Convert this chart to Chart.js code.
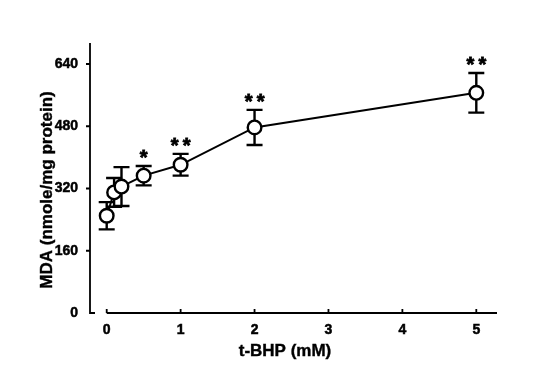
<!DOCTYPE html>
<html><head><meta charset="utf-8">
<script src="https://cdn.jsdelivr.net/npm/chart.js@4"></script>
<style>html,body{margin:0;padding:0;background:#fff}#wrap{width:545px;height:370px}</style>
</head><body><div id="wrap"><canvas id="c"></canvas></div>
<script>
const doses = [0, 0.1, 0.2, 0.5, 1, 2, 5];
const mda = [250, 310, 325, 353, 381, 477, 566];
const sem = [35, 37, 50, 25, 28, 45, 51];
const signif = ["", "", "", "*", "**", "**", "**"];
const xTicks = [0, 1, 2, 3, 4, 5];
const yTicks = [0, 160, 320, 480, 640];
const xTitle = "t-BHP (mM)";
const yTitle = "MDA (nmole/mg protein)";

const FONT = '"Liberation Sans", Arial, Helvetica, sans-serif';

const decor = {
  id: 'decor',
  beforeDatasetsDraw(chart) {
    const {ctx, scales: {x, y}} = chart;
    ctx.save();
    ctx.strokeStyle = '#000';
    ctx.lineWidth = 2.4;
    for (let i = 0; i < doses.length; i++) {
      const px = x.getPixelForValue(doses[i]);
      const top = y.getPixelForValue(mda[i] + sem[i]);
      const bot = y.getPixelForValue(mda[i] - sem[i]);
      ctx.beginPath();
      ctx.moveTo(px, top); ctx.lineTo(px, bot);
      ctx.moveTo(px - 8, top); ctx.lineTo(px + 8, top);
      ctx.moveTo(px - 8, bot); ctx.lineTo(px + 8, bot);
      ctx.stroke();
    }
    ctx.restore();
  },
  afterDraw(chart) {
    const {ctx, scales: {x, y}, chartArea: a} = chart;
    ctx.save();
    ctx.strokeStyle = '#000';
    ctx.lineWidth = 1.8;
    const yx = a.left;
    ctx.beginPath();
    ctx.moveTo(yx, a.top); ctx.lineTo(yx, y.getPixelForValue(0));
    ctx.lineTo(yx + 5, y.getPixelForValue(0));
    for (const v of yTicks) {
      if (v === 0) continue;
      const py = y.getPixelForValue(v);
      ctx.moveTo(yx - 4, py); ctx.lineTo(yx, py);
    }
    ctx.stroke();
    const xy = y.getPixelForValue(0);
    ctx.beginPath();
    ctx.moveTo(x.getPixelForValue(0), xy); ctx.lineTo(a.right, xy);
    for (const v of xTicks) {
      const px = x.getPixelForValue(v);
      ctx.moveTo(px, xy); ctx.lineTo(px, xy - 4);
    }
    ctx.stroke();
    ctx.fillStyle = '#000';
    ctx.strokeStyle = '#000';
    ctx.lineWidth = 0.8;
    ctx.font = 'bold 20px ' + FONT;
    ctx.textAlign = 'center';
    ctx.textBaseline = 'middle';
    for (let i = 0; i < doses.length; i++) {
      const s = signif[i];
      if (!s) continue;
      const px = x.getPixelForValue(doses[i]);
      const py = y.getPixelForValue(mda[i] + sem[i]) - 7;
      const n = s.length;
      for (let k = 0; k < n; k++) {
        const off = (k - (n - 1) / 2) * 12;
        ctx.fillText('*', px + off, py);
        ctx.strokeText('*', px + off, py);
      }
    }
    ctx.font = 'bold 17px ' + FONT;
    ctx.lineWidth = 0.4;
    ctx.textBaseline = 'middle';
    ctx.textAlign = 'center';
    ctx.fillText(xTitle, 285, 351);
    ctx.strokeText(xTitle, 285, 351);
    ctx.translate(47, 190);
    ctx.rotate(-Math.PI / 2);
    ctx.fillText(yTitle, 0, 0);
    ctx.strokeText(yTitle, 0, 0);
    ctx.restore();
  }
};

new Chart(document.getElementById('c'), {
  type: 'scatter',
  data: {
    datasets: [{
      data: doses.map((d, i) => ({x: d, y: mda[i]})),
      showLine: true,
      borderColor: '#000',
      borderWidth: 2,
      pointRadius: 6.8,
      pointHoverRadius: 6.8,
      pointBackgroundColor: '#fff',
      pointBorderColor: '#000',
      pointBorderWidth: 2.4,
      tension: 0
    }]
  },
  options: {
    responsive: true,
    maintainAspectRatio: false,
    animation: false,
    events: [],
    plugins: {legend: {display: false}, tooltip: {enabled: false}},
    layout: {padding: {top: 43, right: 48, left: 0, bottom: 0}},
    scales: {
      x: {
        type: 'linear', min: -0.226, max: 5.28,
        afterBuildTicks: s => { s.ticks = xTicks.map(v => ({value: v})); },
        afterFit: s => { s.height = 57; },
        grid: {display: false, drawTicks: false},
        border: {display: false},
        ticks: {color: '#000', textStrokeColor: '#000', textStrokeWidth: 0.5, padding: 9, font: {family: FONT, size: 14, weight: 'bold'}}
      },
      y: {
        type: 'linear', min: 0, max: 694,
        afterBuildTicks: s => { s.ticks = yTicks.map(v => ({value: v})); },
        afterFit: s => { s.width = 90; },
        grid: {display: false, drawTicks: false},
        border: {display: false},
        ticks: {color: '#000', textStrokeColor: '#000', textStrokeWidth: 0.5, padding: 12, font: {family: FONT, size: 14, weight: 'bold'}}
      }
    }
  },
  plugins: [decor]
});
</script></body></html>
